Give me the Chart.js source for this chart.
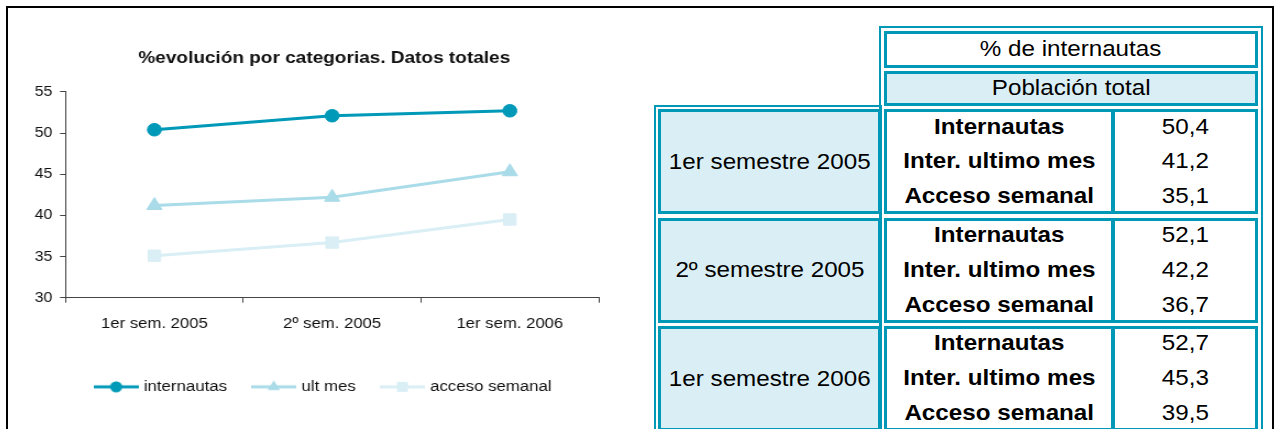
<!DOCTYPE html>
<html><head><meta charset="utf-8">
<script src="https://cdn.jsdelivr.net/npm/chart.js@4.4.1/dist/chart.umd.min.js"></script>
<style>
html,body{margin:0;padding:0;background:#fff;width:1279px;height:429px;overflow:hidden;font-family:"Liberation Sans",Arial,sans-serif;}
#frame{position:absolute;left:6px;top:6px;width:1263.5px;height:440px;border:2px solid #000;box-sizing:content-box;}
#chartBox{position:absolute;left:8px;top:8px;width:575px;height:421px;transform:scaleX(1.1);transform-origin:0 0;}
.tb{position:absolute;box-sizing:border-box;}
.outer{border:2px solid #0098B7;border-bottom:none;}
.cell{border:3px solid #0098B7;}
.light{background:#DAEFF5;}
.white{background:#fff;}
.txt{position:absolute;left:-10px;right:-10px;height:30px;line-height:30px;text-align:center;font-size:22px;color:#000;white-space:nowrap;}
.txt span{display:inline-block;transform:scaleX(1.1);}
.bold{font-weight:bold;}
</style></head>
<body>
<div id="frame"></div>
<div id="chartBox"><canvas id="c"></canvas></div>
<div id="table"></div>
<script>
// ---- data ----
const categories = ['1er sem. 2005', '2º sem. 2005', '1er sem. 2006'];
const internautas = [50.4, 52.1, 52.7];
const ultMes = [41.2, 42.2, 45.3];
const accesoSemanal = [35.1, 36.7, 39.5];
const seriesNames = ['internautas', 'ult mes', 'acceso semanal'];
const yTicks = [30, 35, 40, 45, 50, 55];
const chartTitle = '%evolución por categorias. Datos totales';
const tableHeader = '% de internautas';
const tableSubHeader = 'Población total';
const groupLabels = ['1er semestre 2005', '2º semestre 2005', '1er semestre 2006'];
const metricLabels = ['Internautas', 'Inter. ultimo mes', 'Acceso semanal'];

// ---- styles ----
const colors = ['#0099B8', '#A9DCE8', '#D9EEF5'];
const pointStyles = ['circle', 'triangle', 'rect'];
const pointRadii = [6.3, 8, 8];
const legendRadii = [5.5, 6.5, 7];
const seriesData = [internautas, ultMes, accesoSemanal];

Chart.defaults.font.family = '"Liberation Sans", Arial, sans-serif';

function swatch(i) {
  const c = document.createElement('canvas');
  c.width = 41; c.height = 16;
  const ctx = c.getContext('2d');
  ctx.strokeStyle = colors[i]; ctx.lineWidth = 3;
  ctx.beginPath(); ctx.moveTo(0, 8); ctx.lineTo(41, 8); ctx.stroke();
  ctx.fillStyle = colors[i]; ctx.strokeStyle = colors[i];
  Chart.helpers.drawPoint(ctx, {pointStyle: pointStyles[i], radius: legendRadii[i], borderWidth: 0, rotation: 0}, 20.5, 8);
  return c;
}
const swatches = [0, 1, 2].map(swatch);

const axisColor = '#444';
new Chart(document.getElementById('c'), {
  type: 'line',
  data: {
    labels: categories,
    datasets: seriesData.map((d, i) => ({
      label: seriesNames[i],
      data: d,
      yAxisID: 'y',
      borderColor: colors[i],
      backgroundColor: colors[i],
      pointBackgroundColor: colors[i],
      pointBorderColor: colors[i],
      pointBorderWidth: 1,
      pointStyle: pointStyles[i],
      pointRadius: pointRadii[i],
      borderWidth: 3,
      tension: 0,
      fill: false
    }))
  },
  options: {
    responsive: true,
    maintainAspectRatio: false,
    animation: false,
    layout: {padding: {left: 0, right: 0, top: 0, bottom: 24.5}},
    plugins: {
      title: {display: true, text: chartTitle, color: '#111', font: {size: 17.3, weight: 'bold'}, padding: {top: 39.8, bottom: 23.3}},
      legend: {
        position: 'bottom',
        labels: {
          usePointStyle: true, pointStyleWidth: 35, boxHeight: 15, padding: 25, color: '#111', font: {size: 15.3},
          generateLabels: (chart) => chart.data.datasets.map((ds, i) => ({
            text: ds.label, pointStyle: swatches[i], fillStyle: ds.borderColor, strokeStyle: ds.borderColor,
            lineWidth: 0, hidden: false, datasetIndex: i, fontColor: '#111'
          }))
        }
      },
      tooltip: {enabled: false}
    },
    scales: {
      x: {
        offset: true,
        grid: {offset: true, drawOnChartArea: false, tickLength: 5, color: axisColor},
        border: {display: true, color: axisColor},
        ticks: {color: '#111', font: {size: 15.2}, padding: 12, maxRotation: 0},
        afterFit: (s) => { s.height = 56.5; }
      },
      y: {
        min: yTicks[0], max: yTicks[yTicks.length - 1],
        afterBuildTicks: (s) => { s.ticks = yTicks.map(v => ({value: v})); },
        grid: {drawOnChartArea: false, tickLength: 5, color: axisColor},
        border: {display: true, color: axisColor},
        ticks: {color: '#111', font: {size: 14.5}, padding: 7},
        afterFit: (s) => { s.width = 52.3; }
      },
      yR: {
        position: 'right',
        display: true,
        grid: {display: false, drawTicks: false},
        border: {display: false},
        ticks: {display: false},
        afterFit: (s) => { s.width = 38; }
      }
    }
  }
});

// ---- table ----
const T = document.getElementById('table');
function box(cls, l, t, w, h) {
  const d = document.createElement('div');
  d.className = 'tb ' + cls;
  Object.assign(d.style, {left: l + 'px', top: t + 'px', width: w + 'px', height: h + 'px'});
  T.appendChild(d); return d;
}
function txt(parent, text, centerY, bold) {
  const d = document.createElement('div');
  d.className = 'txt' + (bold ? ' bold' : '');
  d.style.top = (centerY - 15) + 'px';
  const s = document.createElement('span'); s.textContent = text;
  d.appendChild(s); parent.appendChild(d);
}
box('outer', 654, 105, 228, 330);
box('outer', 879, 26, 384, 410);
const h1 = box('cell white', 884, 31, 374, 37); txt(h1, tableHeader, 14.5);
const h2 = box('cell light', 884, 71, 374, 35); txt(h2, tableSubHeader, 14);
const fmt = v => v.toFixed(1).replace('.', ',');
groupLabels.forEach((g, gi) => {
  const top = 109.3 + gi * 108.4;
  const rc = box('cell light', 658, top, 223, 105); txt(rc, g, 49.5);
  const lc = box('cell white', 884, top, 230, 105);
  const vc = box('cell white', 1112, top, 146, 105);
  metricLabels.forEach((m, mi) => {
    txt(lc, m, 14.2 + 35 * mi, true);
    txt(vc, fmt(seriesData[mi][gi]), 14.2 + 35 * mi);
  });
});
</script>
</body></html>
